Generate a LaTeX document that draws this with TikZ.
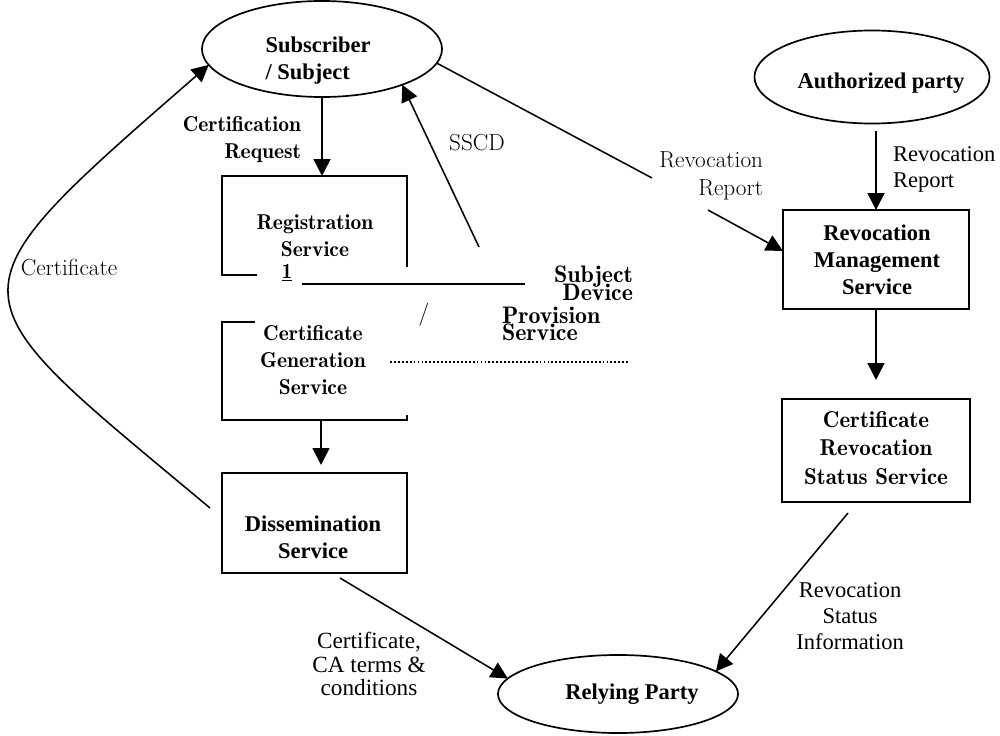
\documentclass[tikz,border=0pt]{standalone}
\usepackage{fontspec}
\newfontfamily\tms{Liberation Serif}
\newfontfamily\gdemi{lmromandemi10-regular.otf}
\newcommand\tightlines{\lineskiplimit=-20pt\relax\lineskip=0pt\relax}
\usetikzlibrary{arrows.meta,shapes.geometric}
\begin{document}
\begin{tikzpicture}[x=0.025cm,y=-0.025cm,
  every node/.style={inner sep=0pt, outer sep=0pt},
  ell/.style={draw, ellipse, line width=1.2pt},
  boxn/.style={draw, line width=1.5pt, rectangle},
  hidbox/.style={rectangle},
  outl/.style={line width=1.5pt},
  conn/.style={line width=1.1pt},
  arr/.style={conn, -{Triangle[length=12pt,width=12pt]}},
  tb/.style={font=\tms\bfseries\fontsize{16}{19.2}\selectfont, align=center},
  tr/.style={font=\tms\fontsize{16}{18.5}\selectfont, align=center},
  gd/.style={font=\gdemi\fontsize{15.3}{19.2}\selectfont, align=center},
  gl/.style={font=\fontsize{16.5}{19.5}\selectfont, align=center},
  tight/.style={font={\gdemi\fontsize{17}{12.5}\selectfont\tightlines}},
]
\useasboundingbox (0,0) rectangle (1000,736);

% ellipses
\node[ell, minimum width=6cm, minimum height=2.4cm] (sub) at (322,49) {};
\node[tb, align=left] (subT) at (318,61) {Subscriber\\/ Subject};
\node[ell, minimum width=5.875cm, minimum height=2.325cm] (auth) at (872,77) {};
\node[tb] (authT) at (881,83) {Authorized party};
\node[ell, minimum width=6cm, minimum height=1.95cm] (rp) at (618,694) {};
\node[tb] (rpT) at (632,694) {Relying Party};

% registration (broken outline)
\node[hidbox, minimum width=4.625cm, minimum height=2.475cm] (reg) at (314.5,225.5) {};
\draw[outl] (257,275) -- (222,275) -- (222,176) -- (407,176) -- (407,267);
\node[gd] (regT) at (315,236) {Registration\\Service};
\node[gd] (one) at (287,273) {\underline{1}};
\draw[line width=0.8pt] (302,284) -- (525,284);

% certificate generation (broken outline)
\node[hidbox, minimum width=4.625cm, minimum height=2.45cm] (cg) at (314.5,371) {};
\draw[outl] (255,322) -- (222,322) -- (222,420) -- (407,420) -- (407,415);
\node[gd] (cgT) at (313,360) {Certificate\\Generation\\Service};
\node[gl] (slash) at (424,315) {/};
\node[tight, align=right, anchor=east] (sdL) at (633,283) {Subject\\Device};
\node[tight, align=left, anchor=west] (psL) at (502,324) {Provision\\Service};
\draw[line width=1.6pt, dash pattern=on 1.3pt off 1.5pt] (390,362) -- (628,362);

% dissemination
\node[boxn, minimum width=4.625cm, minimum height=2.5cm] (diss) at (314.5,523) {};
\node[tb] (dissT) at (313,537) {Dissemination\\Service};

% revocation side
\node[boxn, minimum width=4.65cm, minimum height=2.475cm] (rm) at (876,259.5) {};
\node[tb] (rmT) at (877,260) {Revocation\\Management\\Service};
\node[boxn, minimum width=4.7cm, minimum height=2.575cm] (crss) at (876,450.5) {};
\node[gd, font=\gdemi\fontsize{16.3}{20}\selectfont] (crssT) at (876,448) {Certificate\\Revocation\\Status Service};

% connectors
\draw[arr] (sub.south) -- (sub.south |- reg.north);
\node[gd, align=right, anchor=east] (crL) at (301,140) {Certification\\Request};

\coordinate (sscdS) at (479,247);
\draw[arr] (sscdS) -- (sub.-24);
\node[gl] (sscdL) at (477,143) {SSCD};

\coordinate (rr1) at (652,178);
\coordinate (rr2) at (708,210);
\coordinate (rmIn) at (783,251);
\draw[conn] (sub.-7) -- (rr1);
\draw[arr] (rr2) -- (rmIn);
\node[gl, align=right, anchor=east] (rrL) at (763,176) {Revocation\\Report};

\draw[arr, shorten <=1.75mm] (rm.north |- auth.south) -- (rm.north);
\node[tr, align=left, anchor=west] (arL) at (893,169) {Revocation\\Report};

\draw[arr, shorten >=4.75mm] (rm.south) -- (crss.north);

\coordinate (rsiS) at (848,513);
\draw[arr] (rsiS) -- (rp.13);
\node[tr] (rsiL) at (850,616) {Revocation\\Status\\Information};

\coordinate (dissOut) at (340,578);
\draw[arr] (dissOut) -- (rp.172);
\node[font=\tms\fontsize{16.5}{17}\selectfont, align=center] (ctL) at (369,664) {Certificate,\\CA terms \&\\conditions};

\coordinate (cgOut) at (321,420);
\draw[arr, shorten >=0.2cm] (cgOut) -- (cgOut |- diss.north);

\coordinate (certS) at (210,508);
\draw[arr] (certS) .. controls (-52,289) and (-62,301) .. (sub.188);
\node[gl] (certL) at (69,268) {Certificate};
\end{tikzpicture}
\end{document}
